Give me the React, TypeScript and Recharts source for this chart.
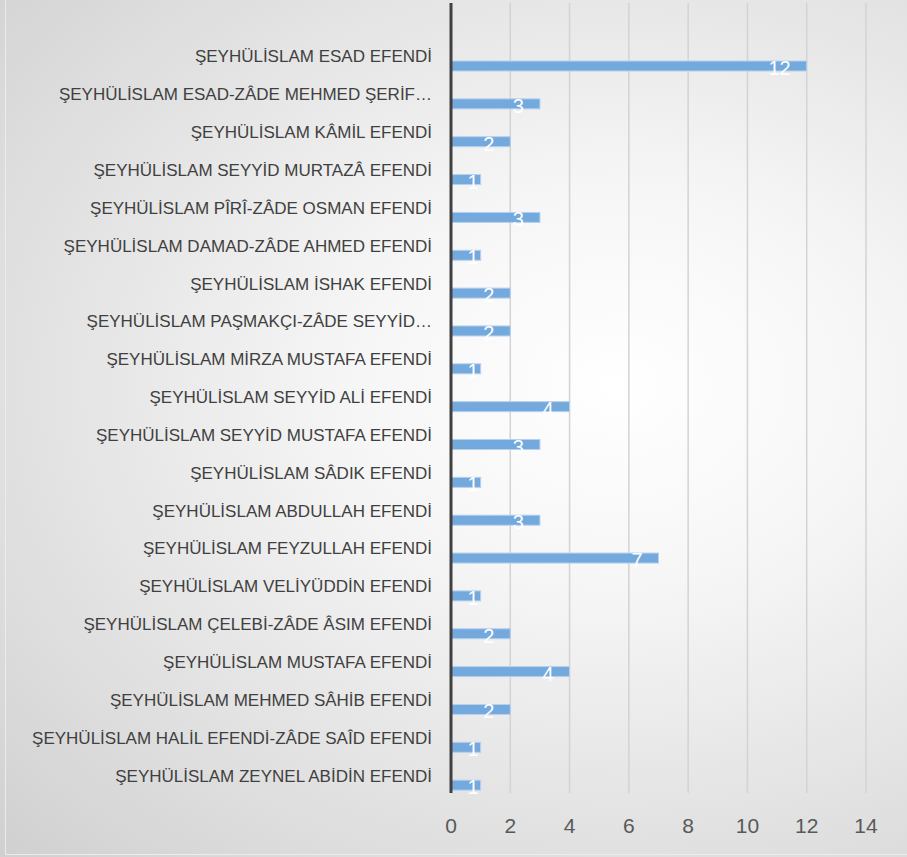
import React from 'react';
import { BarChart, Bar, XAxis, YAxis, CartesianGrid, LabelList } from 'recharts';

const names = [
  'ŞEYHÜLİSLAM ESAD EFENDİ',
  'ŞEYHÜLİSLAM ESAD-ZÂDE MEHMED ŞERİF…',
  'ŞEYHÜLİSLAM KÂMİL EFENDİ',
  'ŞEYHÜLİSLAM SEYYİD MURTAZÂ EFENDİ',
  'ŞEYHÜLİSLAM PÎRÎ-ZÂDE OSMAN EFENDİ',
  'ŞEYHÜLİSLAM DAMAD-ZÂDE AHMED EFENDİ',
  'ŞEYHÜLİSLAM İSHAK EFENDİ',
  'ŞEYHÜLİSLAM PAŞMAKÇI-ZÂDE SEYYİD…',
  'ŞEYHÜLİSLAM MİRZA MUSTAFA EFENDİ',
  'ŞEYHÜLİSLAM SEYYİD ALİ EFENDİ',
  'ŞEYHÜLİSLAM SEYYİD MUSTAFA EFENDİ',
  'ŞEYHÜLİSLAM SÂDIK EFENDİ',
  'ŞEYHÜLİSLAM ABDULLAH EFENDİ',
  'ŞEYHÜLİSLAM FEYZULLAH EFENDİ',
  'ŞEYHÜLİSLAM VELİYÜDDİN EFENDİ',
  'ŞEYHÜLİSLAM ÇELEBİ-ZÂDE ÂSIM EFENDİ',
  'ŞEYHÜLİSLAM MUSTAFA EFENDİ',
  'ŞEYHÜLİSLAM MEHMED SÂHİB EFENDİ',
  'ŞEYHÜLİSLAM HALİL EFENDİ-ZÂDE SAÎD EFENDİ',
  'ŞEYHÜLİSLAM ZEYNEL ABİDİN EFENDİ',
];

const counts = [12, 3, 2, 1, 3, 1, 2, 2, 1, 4, 3, 1, 3, 7, 1, 2, 4, 2, 1, 1];

const xTicks = [0, 2, 4, 6, 8, 10, 12, 14];

const data = names.map((name, i) => ({ name, count: counts[i] }));

const FONT = '"Liberation Sans", Arial, sans-serif';
const BAR_SHIFT = 11; // bars sit below the category label, as in the Excel export

// bar drawn a bit lower than the band centre
const ShiftedBar = (props: any) => {
  const { x, y, width, height } = props;
  return (
    <rect x={x} y={y + BAR_SHIFT} width={width} height={height}
      fill="#74a9dd" stroke="#b6d1ee" strokeWidth={1} />
  );
};

const ValueLabel = (props: any) => {
  const { x, y, width, height, value } = props;
  const right = width > 40 ? x + width - 16 : x + width - 2;
  return (
    <text x={right} y={y + BAR_SHIFT + height / 2 + 2} textAnchor="end" dominantBaseline="central"
      fill="#ffffff" fontSize={20} fontFamily={FONT}>
      {value}
    </text>
  );
};

const CategoryTick = (props: any) => {
  const { x, y, payload } = props;
  return (
    <text x={x} y={y + 2} textAnchor="end" dominantBaseline="central"
      fill="#404040" fontSize={17} fontFamily={FONT}>
      {payload.value}
    </text>
  );
};

export default function App() {
  return (
    <div style={{
      position: 'absolute', left: 0, top: 0, width: 907, height: 857,
      background: 'radial-gradient(ellipse at 68% 45%, #ffffff 0%, #f6f6f6 30%, #d0d0d0 100%)',
    }}>
      <div style={{
        position: 'absolute', left: 5, top: 0, width: 902, height: 854,
        borderLeft: '1px solid #ececec', borderBottom: '1px solid #ececec',
      }} />
      <div style={{ position: 'absolute', left: 0, top: 0 }}>
        <BarChart width={907} height={857} data={data} layout="vertical"
          margin={{ top: 3, right: 41, bottom: 0, left: 0 }} barSize={10}>
          <CartesianGrid horizontal={false} stroke="#d3d3d3" strokeWidth={1.5} />
          <XAxis type="number" domain={[0, 14]} ticks={xTicks} axisLine={false} tickLine={false}
            tickSize={0} tickMargin={25} height={64}
            tick={{ fill: '#595959', fontSize: 21, fontFamily: FONT }} />
          <YAxis type="category" dataKey="name" width={451} interval={0}
            padding={{ top: 33, bottom: 0 }}
            axisLine={{ stroke: '#404040', strokeWidth: 3 }} tickLine={false}
            tickSize={0} tickMargin={19}
            tick={<CategoryTick />} />
          <Bar dataKey="count" shape={<ShiftedBar />} isAnimationActive={false}>
            <LabelList dataKey="count" content={<ValueLabel />} />
          </Bar>
        </BarChart>
      </div>
    </div>
  );
}
